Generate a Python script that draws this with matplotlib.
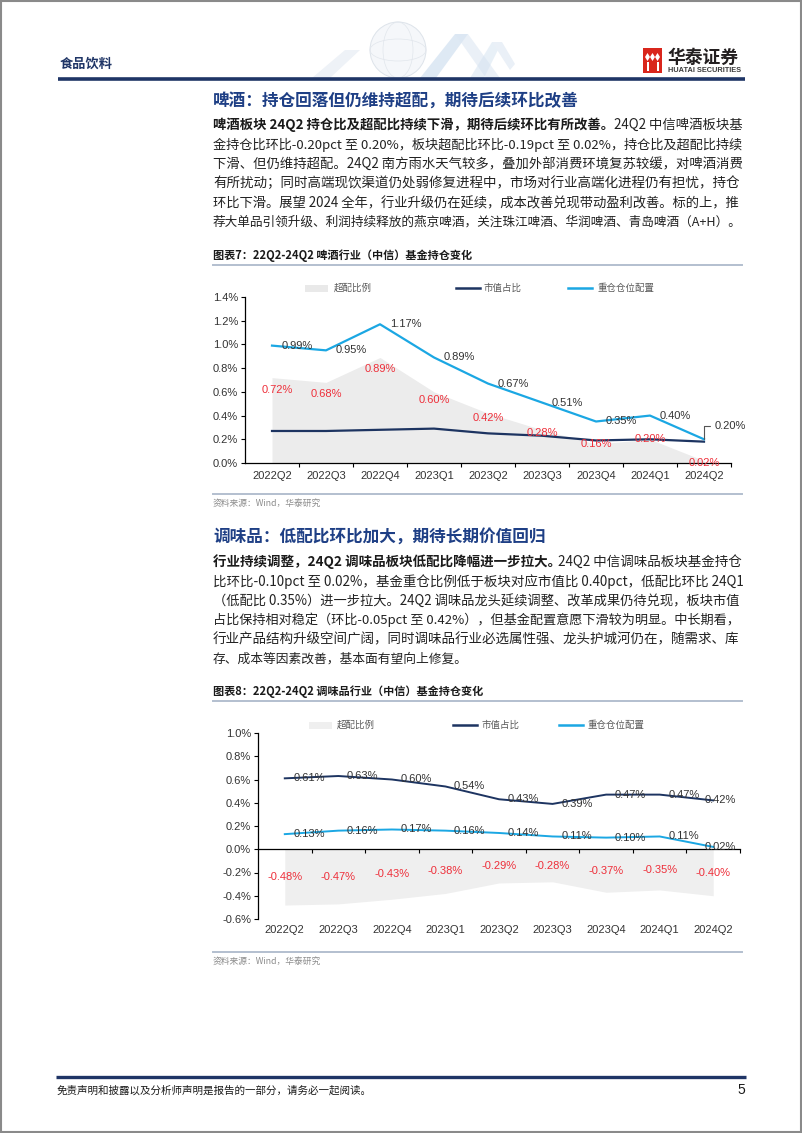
import numpy as np
import matplotlib
matplotlib.use("Agg")
import matplotlib.pyplot as plt
from matplotlib.patches import Rectangle, Polygon, Circle, Ellipse

plt.rcParams["font.family"] = ["Noto Sans CJK SC", "DejaVu Sans"]

# data
quarters = ["2022Q2", "2022Q3", "2022Q4", "2023Q1", "2023Q2",
            "2023Q3", "2023Q4", "2024Q1", "2024Q2"]
beer_heavy = [0.99, 0.95, 1.17, 0.89, 0.67, 0.51, 0.35, 0.40, 0.20]
beer_market = [0.27, 0.27, 0.28, 0.29, 0.25, 0.23, 0.19, 0.20, 0.18]
beer_over = [0.72, 0.68, 0.89, 0.60, 0.42, 0.28, 0.16, 0.20, 0.02]
sauce_heavy = [0.13, 0.16, 0.17, 0.16, 0.14, 0.11, 0.10, 0.11, 0.02]
sauce_market = [0.61, 0.63, 0.60, 0.54, 0.43, 0.39, 0.47, 0.47, 0.42]
sauce_over = [-0.48, -0.47, -0.43, -0.38, -0.29, -0.28, -0.37, -0.35, -0.40]
beer_yticks = [0.0, 0.2, 0.4, 0.6, 0.8, 1.0, 1.2, 1.4]
sauce_yticks = [-0.6, -0.4, -0.2, 0.0, 0.2, 0.4, 0.6, 0.8, 1.0]
legend_labels = ["超配比例", "市值占比", "重仓仓位配置"]

# red label nudges for chart 1 (pixels)
beer_red_dy = [-12, -12, -12, -8, -5, -3, 0, 0, -2]
beer_red_dx = [5, 0, 0, 0, 0, 0, 0, 0, 0]

LIGHT = "#1ba7e3"
NAVY = "#1d3461"
AREA = "#ececec"
RED = "#ee2f3a"
LBL = "#333333"
DARKBLUE = "#1e3f85"
NUM = ["Liberation Sans", "DejaVu Sans"]

W, H = 802, 1133
fig = plt.figure(figsize=(W / 100, H / 100), dpi=100)
fig.patch.set_facecolor("white")

# page-level drawing in pixel coordinates
bg = fig.add_axes([0, 0, 1, 1])
bg.set_xlim(0, W)
bg.set_ylim(H, 0)
bg.axis("off")
bg.add_patch(Rectangle((0.5, 0.5), W - 1.5, H - 1.5, fill=False, ec="#8a8a8a", lw=1.5))

# header decoration (faint globe + peaks)
bg.add_patch(Circle((398, 50), 28, fc="#f5f7fa", ec="#dde3ea", lw=0.7))
bg.add_patch(Ellipse((398, 50), 30, 56, fc="none", ec="#e1e6ec", lw=0.5))
bg.add_patch(Ellipse((398, 50), 56, 22, fc="none", ec="#e1e6ec", lw=0.5))
bg.add_patch(Polygon([(312, 78), (345, 50), (360, 50), (330, 78)], fc="#eef2f7", ec="none"))
bg.add_patch(Polygon([(420, 78), (455, 34), (468, 34), (436, 78)], fc="#c9dbee", ec="none", alpha=0.6))
bg.add_patch(Polygon([(455, 34), (468, 34), (500, 78), (486, 78)], fc="#dce7f3", ec="none", alpha=0.6))
bg.add_patch(Polygon([(470, 78), (492, 42), (502, 42), (484, 78)], fc="#d3e2f1", ec="none", alpha=0.5))
bg.add_patch(Polygon([(492, 42), (502, 42), (515, 64), (510, 70)], fc="#eaf0f7", ec="none"))

bg.text(60, 64, "食品饮料", fontsize=9.5, fontweight="bold", color="#1f3566", va="center")
bg.plot([58, 745], [79, 79], color="#1f3566", lw=2.6, solid_capstyle="butt")

# logo
bg.add_patch(Rectangle((643, 48), 19, 25, fc="#d9261c", ec="none"))
for cx in (647.5, 652.5, 657.5):
    bg.add_patch(Polygon([(cx, 53), (cx + 2.5, 57), (cx, 61), (cx - 2.5, 57)], fc="white", ec="none"))
for cx in (647.5, 657.5):
    bg.add_patch(Rectangle((cx - 1, 62), 2, 9, fc="white", ec="none"))
bg.text(668, 58, "华泰证券", fontsize=12.8, fontweight="bold", color="#231f20", va="center")
bg.text(668, 71, "HUATAI SECURITIES", fontsize=5.3, fontweight="bold", color="#3a3a3a",
        va="center", family=NUM)

renderer = fig.canvas.get_renderer()
TEXT_L, TEXT_R = 213, 742


def body_line(y, normal, bold="", size=9.2, fit=True):
    parts = []
    if bold:
        parts.append(bg.text(TEXT_L, y, bold, fontsize=size, fontweight="bold", color="#1a1a1a", va="center"))
    parts.append(bg.text(TEXT_L, y, normal, fontsize=size, color="#222222", va="center"))
    for _ in range(2):
        x = TEXT_L
        for t in parts:
            t.set_x(x)
            x += t.get_window_extent(renderer).width
        if not fit:
            break
        f = (TEXT_R - TEXT_L) / (x - TEXT_L)
        f = min(max(f, 0.92), 1.08)
        for t in parts:
            t.set_fontsize(t.get_fontsize() * f)


# section 1 text
bg.text(TEXT_L, 101, "啤酒：持仓回落但仍维持超配，期待后续环比改善", fontsize=12,
        fontweight="bold", color=DARKBLUE, va="center")
para1 = [
    "金持仓比环比-0.20pct 至 0.20%，板块超配比环比-0.19pct 至 0.02%，持仓比及超配比持续",
    "下滑、但仍维持超配。24Q2 南方雨水天气较多，叠加外部消费环境复苏较缓，对啤酒消费",
    "有所扰动；同时高端现饮渠道仍处弱修复进程中，市场对行业高端化进程仍有担忧，持仓",
    "环比下滑。展望 2024 全年，行业升级仍在延续，成本改善兑现带动盈利改善。标的上，推",
    "荐大单品引领升级、利润持续释放的燕京啤酒，关注珠江啤酒、华润啤酒、青岛啤酒（A+H）。",
]
body_line(125, "24Q2 中信啤酒板块基", bold="啤酒板块 24Q2 持仓比及超配比持续下滑，期待后续环比有所改善。")
for i, s in enumerate(para1):
    body_line(125 + 19.5 * (i + 1), s)

# section 2 text
bg.text(TEXT_L, 538, "调味品：低配比环比加大，期待长期价值回归", fontsize=12,
        fontweight="bold", color=DARKBLUE, va="center")
para2 = [
    "比环比-0.10pct 至 0.02%，基金重仓比例低于板块对应市值比 0.40pct，低配比环比 24Q1",
    "（低配比 0.35%）进一步拉大。24Q2 调味品龙头延续调整、改革成果仍待兑现，板块市值",
    "占比保持相对稳定（环比-0.05pct 至 0.42%），但基金配置意愿下滑较为明显。中长期看，",
    "行业产品结构升级空间广阔，同时调味品行业必选属性强、龙头护城河仍在，随需求、库",
]
body_line(562, "24Q2 中信调味品板块基金持仓", bold="行业持续调整，24Q2 调味品板块低配比降幅进一步拉大。")
for i, s in enumerate(para2):
    body_line(562 + 19.4 * (i + 1), s)
body_line(562 + 19.4 * 5, "存、成本等因素改善，基本面有望向上修复。", fit=False)

# chart titles, rules and sources
for ty, title, rule_top, rule_bot in ((256, "图表7：22Q2-24Q2 啤酒行业（中信）基金持仓变化", 265, 494),
                                      (692, "图表8：22Q2-24Q2 调味品行业（中信）基金持仓变化", 701, 952)):
    bg.text(TEXT_L, ty, title, fontsize=8, fontweight="bold", color="#1a1a1a", va="center")
    bg.plot([TEXT_L, TEXT_R], [rule_top, rule_top], color="#b3bfcf", lw=1.4)
    bg.plot([TEXT_L, TEXT_R], [rule_bot, rule_bot], color="#b3bfcf", lw=1.4)
    bg.text(TEXT_L, rule_bot + 9, "资料来源：Wind，华泰研究", fontsize=6.3, color="#8c8c8c", va="center")

# legends
for ly, (px, tx1), (l1, tx2), (l2, tx3), patch_c in ((288, (305, 334), (456, 484), (568, 598), "#e9e9e9"),
                                                     (725, (309, 337), (453, 482), (559, 587), "#efefef")):
    bg.add_patch(Rectangle((px, ly - 3.5), 23, 7, fc=patch_c, ec="none"))
    bg.text(tx1, ly, legend_labels[0], fontsize=6.8, color="#595959", va="center")
    bg.plot([l1, l1 + 24], [ly, ly], color=NAVY, lw=1.8)
    bg.text(tx2, ly, legend_labels[1], fontsize=6.8, color="#595959", va="center")
    bg.plot([l2, l2 + 24], [ly, ly], color=LIGHT, lw=1.8)
    bg.text(tx3, ly, legend_labels[2], fontsize=6.8, color="#595959", va="center")

# footer
bg.plot([56, 746], [1077, 1077], color="#1f3566", lw=2.4, solid_capstyle="butt")
bg.text(57, 1090, "免责声明和披露以及分析师声明是报告的一部分，请务必一起阅读。", fontsize=7.6,
        style="italic", color="#1a1a1a", va="center")
bg.text(745, 1090, "5", fontsize=10, color="#1a1a1a", va="center", ha="right", family=NUM)


def fax(l, t, r, b):
    return fig.add_axes([l / W, 1 - b / H, (r - l) / W, (b - t) / H])


def style_axis(ax, yticks):
    ax.patch.set_alpha(0)
    ax.set_xlim(-0.5, 8.5)
    ax.set_ylim(yticks[0], yticks[-1])
    ax.set_yticks(yticks)
    ax.set_yticklabels([f"{v:.1f}%" for v in yticks], family=NUM, fontsize=8, color=LBL)
    ax.tick_params(axis="y", length=3, width=0.8, pad=2, color="#000000")
    ax.set_xticks([])
    ax.set_xticks(np.arange(0.5, 9, 1), minor=True)
    ax.tick_params(axis="x", which="minor", length=3, width=0.8, color="#000000")
    for s in ("top", "right"):
        ax.spines[s].set_visible(False)
    for s in ("left", "bottom"):
        ax.spines[s].set_color("#000000")
        ax.spines[s].set_linewidth(0.9)


x = np.arange(len(quarters))

# chart 1: beer
ax1 = fax(245, 297, 731, 463)
style_axis(ax1, beer_yticks)
ax1.fill_between(x, 0, beer_over, color=AREA, lw=0, zorder=1)
ax1.plot(x, beer_market, color=NAVY, lw=1.6, zorder=3)
ax1.plot(x, beer_heavy, color=LIGHT, lw=1.6, zorder=3)
for i, q in enumerate(quarters):
    ax1.annotate(q, (i, 0), xytext=(0, -9.5), textcoords="offset points", ha="center", va="center",
                 family=NUM, fontsize=8, color=LBL, annotation_clip=False)
for i, v in enumerate(beer_heavy[:-1]):
    ax1.annotate(f"{v:.2f}%", (i, v), xytext=(18.3, 0), textcoords="offset points",
                 ha="center", va="center", family=NUM, fontsize=8, color=LBL, zorder=4)
ax1.annotate(f"{beer_heavy[-1]:.2f}%", (8, beer_heavy[-1]), xytext=(8, 9.5), textcoords="offset points",
             ha="left", va="center", family=NUM, fontsize=8, color=LBL, annotation_clip=False,
             arrowprops=dict(arrowstyle="-", color="#555555", lw=0.8, shrinkA=2, shrinkB=0,
                             connectionstyle="angle,angleA=0,angleB=90,rad=0"))
for i, v in enumerate(beer_over):
    ax1.annotate(f"{v:.2f}%", (i, v), xytext=(beer_red_dx[i] * 0.72, beer_red_dy[i] * 0.72),
                 textcoords="offset points", ha="center", va="center", family=NUM, fontsize=8,
                 color=RED, zorder=4, annotation_clip=False)

# chart 2: condiments
ax2 = fax(258, 733, 740, 919)
style_axis(ax2, sauce_yticks)
ax2.spines["bottom"].set_position(("data", 0))
ax2.fill_between(x, 0, sauce_over, color="#efefef", lw=0, zorder=1)
ax2.plot(x, sauce_market, color=NAVY, lw=1.4, zorder=3)
ax2.plot(x, sauce_heavy, color=LIGHT, lw=1.4, zorder=3)
for i, q in enumerate(quarters):
    ax2.annotate(q, (i, -0.6), xytext=(0, -8), textcoords="offset points", ha="center", va="center",
                 family=NUM, fontsize=8, color=LBL, annotation_clip=False)
for series in (sauce_market, sauce_heavy):
    for i, v in enumerate(series):
        dx = 17.5 if i < len(series) - 1 else 5
        ax2.annotate(f"{v:.2f}%", (i, v), xytext=(dx, 0), textcoords="offset points",
                     ha="center", va="center", family=NUM, fontsize=8, color=LBL, zorder=4,
                     annotation_clip=False)
for i, v in enumerate(sauce_over):
    ax2.text(i, v / 2, f"{v:.2f}%", ha="center", va="center", family=NUM, fontsize=8,
             color=RED, zorder=4)

fig.savefig("out.png", dpi=100)
